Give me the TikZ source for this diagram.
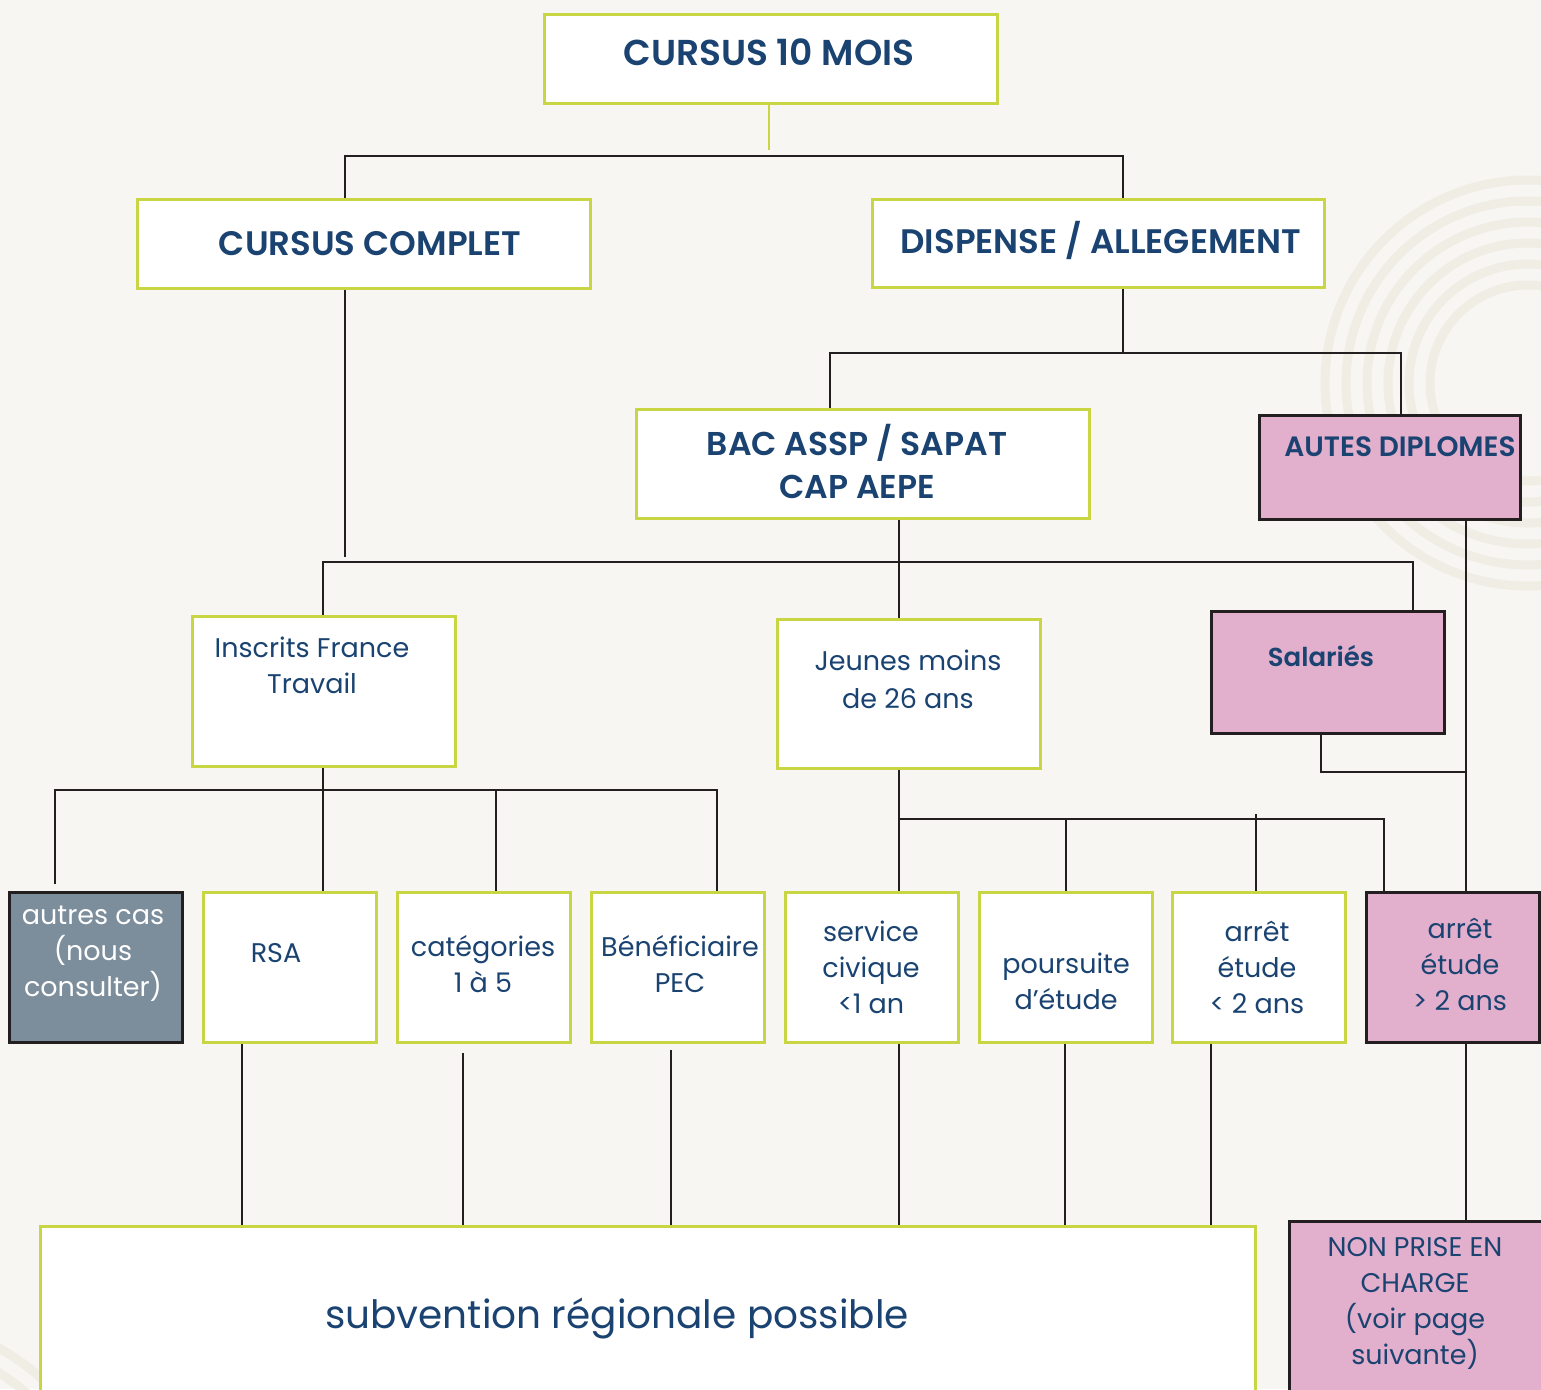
\documentclass[tikz,border=0pt]{standalone}
\usepackage{fontspec}
\IfFontExistsTF{Poppins SemiBold}
  {\setmainfont{Poppins}[BoldFont={Poppins SemiBold}]}
  {\setmainfont{Poppins}}
\definecolor{paper}{HTML}{F7F6F2}
\definecolor{ring}{HTML}{EFEDE4}
\definecolor{lime}{HTML}{C9D643}
\definecolor{navy}{HTML}{1A4371}
\definecolor{rose}{HTML}{E2AFCD}
\definecolor{slate}{HTML}{7C8D9C}
\definecolor{ink}{HTML}{231F20}
\tikzset{
  greenbox/.style={draw=lime,fill=white,line width=1.5pt,inner sep=0pt},
  pinkbox/.style={draw=ink,fill=rose,line width=1.5pt,inner sep=0pt},
  greybox/.style={draw=ink,fill=slate,line width=1.5pt,inner sep=0pt},
  cellbox/.style={minimum width=86.5pt,minimum height=75pt},
  link/.style={draw=ink,line width=1pt},
  head/.style={text=navy,font=\bfseries\fontsize{18}{22}\selectfont,inner sep=0pt,align=center},
  body/.style={text=navy,font=\fontsize{13.5}{18}\selectfont,inner sep=0pt,align=center},
}
\begin{document}
\begin{tikzpicture}[x=0.5pt,y=-0.5pt]
\useasboundingbox (0,0) rectangle (1541,1389);
\clip (0,0) rectangle (1541,1389);
\fill[paper] (0,0) rectangle (1541,1389);

\draw[ring,line width=4.5pt]
(1528,383) circle[radius=98]
(1528,383) circle[radius=119]
(1528,383) circle[radius=140]
(1528,383) circle[radius=161]
(1528,383) circle[radius=182]
(1528,383) circle[radius=203];
\draw[ring,line width=4.5pt]
(-120,1560) circle[radius=222]
(-120,1560) circle[radius=243];

\node[greenbox,minimum width=226.5pt,minimum height=44.5pt] (cursus) at (770.5,58.5) {};
\node[greenbox,minimum width=226.5pt,minimum height=44.5pt] (complet) at (363.5,243.5) {};
\node[greenbox,minimum width=226pt,minimum height=44pt] (dispense) at (1098,243) {};
\node[greenbox,minimum width=226.5pt,minimum height=54.5pt] (bac) at (862.5,463.5) {};
\node[pinkbox,minimum width=130.5pt,minimum height=52pt] (diplomes) at (1389.5,467) {};
\node[greenbox,minimum width=131.5pt,minimum height=75pt] (inscrits) at (323.5,691) {};
\node[greenbox,minimum width=131.5pt,minimum height=74.5pt] (jeunes) at (908.5,693.5) {};
\node[pinkbox,minimum width=116.5pt,minimum height=61pt] (salaries) at (1327.5,672) {};

\node[greybox,cellbox] (autrescas) at (95.5,967) {};
\node[greenbox,cellbox] (rsa) at (289.5,967) {};
\node[greenbox,cellbox] (categories) at (483.5,967) {};
\node[greenbox,cellbox] (pec) at (677.5,967) {};
\node[greenbox,cellbox] (civique) at (871.5,967) {};
\node[greenbox,cellbox] (poursuite) at (1065.5,967) {};
\node[greenbox,cellbox] (arretmoins) at (1259,967) {};
\node[pinkbox,cellbox] (arretplus) at (1452.5,967) {};

\node[greenbox,minimum width=607.5pt,minimum height=87pt] (subvention) at (647.5,1313) {};
\node[pinkbox,minimum width=128pt,minimum height=89.5pt] (nonprise) at (1417,1310.5) {};

\node[head] (cursus-t) at (769,52) {CURSUS 10 MOIS};
\node[head,font=\bfseries\fontsize{17}{21}\selectfont] (complet-t) at (370,244) {CURSUS COMPLET};
\node[head,font=\bfseries\fontsize{17}{21}\selectfont] (dispense-t) at (1101,240) {DISPENSE / ALLEGEMENT};
\node[head,font=\bfseries\fontsize{16.5}{21.5}\selectfont] (bac-t) at (857,461.5) {BAC ASSP / SAPAT\\CAP AEPE};
\node[head,font=\bfseries\fontsize{14}{18}\selectfont] (diplomes-t) at (1400,447) {AUTES DIPLOMES};
\node[body] (inscrits-t) at (312,665) {Inscrits France\\Travail};
\node[body,font=\fontsize{13.5}{19}\selectfont] (jeunes-t) at (908,679) {Jeunes moins\\de 26 ans};
\node[body,font=\bfseries\fontsize{13}{18}\selectfont] (salaries-t) at (1321,656) {Salariés};

\node[body,text=white] (autrescas-t) at (93,954) {autres cas\\(nous\\consulter)};
\node[body] (rsa-t) at (276,953) {RSA};
\node[body] (categories-t) at (483,964) {catégories\\1 à 5};
\node[body] (pec-t) at (680,964) {Bénéficiaire\\PEC};
\node[body] (civique-t) at (871,967) {service\\civique\\<1 an};
\node[body] (poursuite-t) at (1066,981) {poursuite\\d’étude};
\node[body] (arretmoins-t) at (1257,967) {arrêt\\étude\\< 2 ans};
\node[body] (arretplus-t) at (1460,964) {arrêt\\étude\\> 2 ans};

\node[body,font=\fontsize{19.5}{24}\selectfont] (subvention-t) at (617,1318) {subvention régionale possible};
\node[body] (nonprise-t) at (1415,1303) {NON PRISE EN\\CHARGE\\(voir page\\suivante)};

\coordinate (topend) at (769,150);
\coordinate (a1) at (345,156);
\coordinate (a2) at (1123,156);
\coordinate (b0) at (1123,353);
\coordinate (b1) at (830,353);
\coordinate (b2) at (1401,353);
\coordinate (c0) at (345,557);
\coordinate (c1) at (323,562);
\coordinate (c2) at (1413,562);
\coordinate (c3) at (899,562);
\coordinate (d0) at (1466,772);
\coordinate (d1) at (1321,772);
\coordinate (e0) at (323,790);
\coordinate (e1) at (55,790);
\coordinate (e2) at (717,790);
\coordinate (e3) at (496,790);
\coordinate (e1end) at (55,884);
\coordinate (f0) at (899,819);
\coordinate (f1) at (1384,819);
\coordinate (f2) at (1066,819);
\coordinate (f3) at (1256,814);

\draw[lime,line width=1.2pt]
(topend |- cursus.south) -- (topend);
\draw[link]
(a1 |- complet.north) -- (a1) -- (a2) -- (a2 |- dispense.north)
(b0 |- dispense.south) -- (b0)
(b1 |- bac.north) -- (b1) -- (b2) -- (b2 |- diplomes.north)
(a1 |- complet.south) -- (c0);
\draw[link]
(c1 |- inscrits.north) -- (c1) -- (c2) -- (c2 |- salaries.north)
(c3 |- bac.south) -- (c3 |- jeunes.north)
(d0 |- diplomes.south) -- (d0 |- arretplus.north)
(d1 |- salaries.south) -- (d1) -- (d0);
\draw[link]
(e0 |- inscrits.south) -- (e0 |- rsa.north)
(e1end) -- (e1) -- (e2) -- (e2 |- pec.north)
(e3) -- (e3 |- categories.north);
\draw[link]
(f0 |- jeunes.south) -- (f0 |- civique.north)
(f0) -- (f1) -- (f1 |- arretplus.north)
(f2) -- (f2 |- poursuite.north)
(f3) -- (f3 |- arretmoins.north);

\draw[link]
(242,1042) coordinate (g1) (g1 |- rsa.south) -- (g1 |- subvention.north)
(463,1053) coordinate (g2) -- (g2 |- subvention.north)
(671,1050) coordinate (g3) -- (g3 |- subvention.north)
(899,1042) coordinate (g4) (g4 |- civique.south) -- (g4 |- subvention.north)
(1065,1042) coordinate (g5) (g5 |- poursuite.south) -- (g5 |- subvention.north)
(1211,1042) coordinate (g6) (g6 |- arretmoins.south) -- (g6 |- subvention.north)
(d0 |- arretplus.south) -- (d0 |- nonprise.north);
\end{tikzpicture}
\end{document}
